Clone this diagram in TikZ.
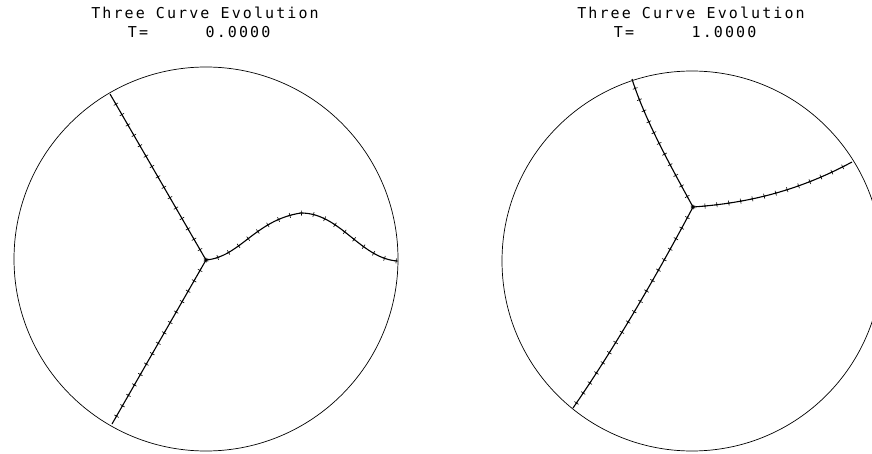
\documentclass[tikz,border=0pt]{standalone}
\usepackage{fontspec}
\setmonofont[LetterSpace=14]{DejaVu Sans Mono}
\usetikzlibrary{decorations.markings}

\tikzset{
  rim/.style={line width=0.7pt},
  crossed/.style={line width=1.1pt, postaction={decorate},
    decoration={markings, mark=between positions 0 and 1 step 12pt with
      {\draw[line width=0.6pt] (-2pt,0) -- (2pt,0) (0,-2.5pt) -- (0,2.5pt);}}},
  label/.style={font=\fontsize{15}{15}\selectfont\ttfamily, inner sep=0pt}
}

\begin{document}
\begin{tikzpicture}[x=1pt,y=-1pt]
  \useasboundingbox (0,0) rectangle (872,454);
  \clip (0,0) rectangle (872,454);

  % Titles
  \node[label] (titleA) at (205,13) {Three Curve Evolution};
  \node[label] (tA) at (138,32) {T=};
  \node[label] (valA) at (238,32) {0.0000};
  \node[label] (titleB) at (691,13) {Three Curve Evolution};
  \node[label] (tB) at (624,32) {T=};
  \node[label] (valB) at (724,32) {1.0000};

  % Left disc, T = 0
  \draw[rim] (206,259) circle (192);
  \coordinate (J1) at (206,260);
  \coordinate (A1) at (110,94);
  \coordinate (B1) at (112,424);
  \coordinate (P1) at (301,213);
  \coordinate (C1) at (397,261);
  \draw[crossed] (J1) -- (A1);
  \draw[crossed] (J1) -- (B1);
  \draw[crossed] (J1) .. controls (240,257) and (255,220) .. (P1)
    .. controls (340,213) and (360,258) .. (C1);

  % Right disc, T = 1
  \draw[rim] (692,261) circle (190);
  \coordinate (J2) at (693,207);
  \coordinate (A2) at (632,79);
  \coordinate (B2) at (573,408);
  \coordinate (C2) at (852,162);
  \draw[crossed] (J2) .. controls (670,165) and (645,120) .. (A2);
  \draw[crossed] (J2) .. controls (750,203) and (800,190) .. (C2);
  \draw[crossed] (J2) .. controls (665,260) and (620,340) .. (B2);
\end{tikzpicture}
\end{document}
